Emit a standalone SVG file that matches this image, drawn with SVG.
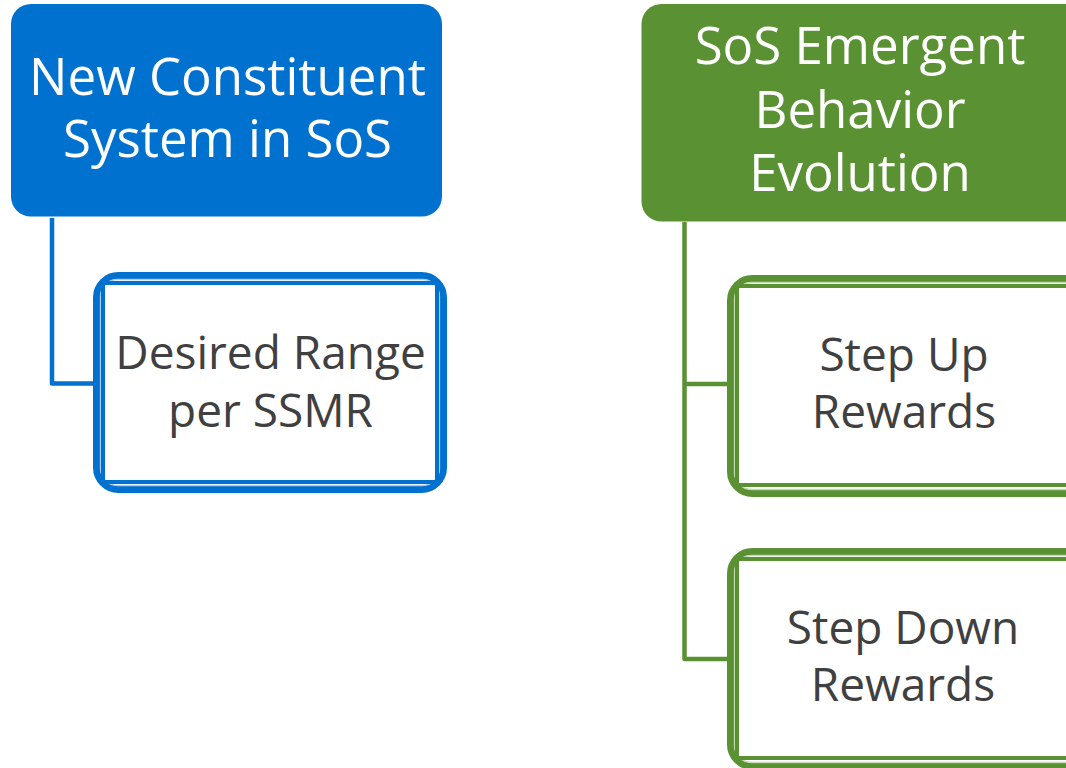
<svg xmlns="http://www.w3.org/2000/svg" width="1066" height="768" viewBox="0 0 1066 768">
  <style>
    .head { font-family: "Open Sans", "Liberation Sans", sans-serif; font-size: 51px; fill: #ffffff; text-anchor: middle; }
    .leaf { font-family: "Open Sans", "Liberation Sans", sans-serif; font-size: 46px; fill: #404040; text-anchor: middle; }
    .blue-fill { fill: #0071ce; }
    .green-fill { fill: #5a9132; }
    .frame-blue { fill: #ffffff; stroke: #0071ce; stroke-width: 7; }
    .frame-green { fill: #ffffff; stroke: #5a9132; stroke-width: 7; }
    .inner-blue { fill: none; stroke: #0071ce; stroke-width: 4; }
    .inner-green { fill: none; stroke: #5a9132; stroke-width: 4; }
    .gap-blue { fill: none; stroke: #a9cbee; stroke-width: 1.3; }
    .gap-green { fill: none; stroke: #c2d9b1; stroke-width: 1.3; }
    .link-blue { fill: none; stroke: #0071ce; stroke-width: 4.5; stroke-linejoin: round; }
    .link-green { fill: none; stroke: #5a9132; stroke-width: 4.5; stroke-linejoin: round; }
  </style>
  <rect width="1066" height="768" fill="#ffffff"/>

  <!-- tree connectors -->
  <g id="connectors">
    <path class="link-blue" d="M52 218 V383.5 H97"/>
    <path class="link-green" d="M684.5 222 V659 H731"/>
    <path class="link-green" d="M684.5 384 H731"/>
  </g>

  <!-- left branch -->
  <g id="node-new-constituent">
    <rect class="blue-fill" x="11" y="4" width="431" height="212.5" rx="20"/>
    <text class="head" x="227.5" y="95">New Constituent</text>
    <text class="head" x="227.5" y="157">System in SoS</text>
  </g>

  <g id="node-desired-range">
    <rect class="frame-blue" x="96.5" y="275.5" width="347" height="214" rx="22"/>
    <rect class="gap-blue" x="100.5" y="279.5" width="339" height="206" rx="17"/>
    <rect class="inner-blue" x="103" y="283" width="334" height="199"/>
    <text class="leaf" x="270.5" y="369">Desired Range</text>
    <text class="leaf" x="270.5" y="427">per SSMR</text>
  </g>

  <!-- right branch -->
  <g id="node-emergent-behavior">
    <rect class="green-fill" x="641.5" y="4" width="450" height="217.5" rx="20"/>
    <text class="head" x="860" y="64">SoS Emergent</text>
    <text class="head" x="860" y="128">Behavior</text>
    <text class="head" x="860" y="191">Evolution</text>
  </g>

  <g id="node-step-up">
    <rect class="frame-green" x="730.5" y="278.5" width="360" height="215" rx="22"/>
    <rect class="gap-green" x="734.5" y="282.5" width="352" height="207" rx="17"/>
    <rect class="inner-green" x="737" y="286" width="345" height="199"/>
    <text class="leaf" x="904" y="371">Step Up</text>
    <text class="leaf" x="904" y="428">Rewards</text>
  </g>

  <g id="node-step-down">
    <rect class="frame-green" x="730.5" y="551.5" width="360" height="215" rx="22"/>
    <rect class="gap-green" x="734.5" y="555.5" width="352" height="207" rx="17"/>
    <rect class="inner-green" x="737" y="559" width="345" height="199"/>
    <text class="leaf" x="903" y="644">Step Down</text>
    <text class="leaf" x="903" y="701">Rewards</text>
  </g>
</svg>
